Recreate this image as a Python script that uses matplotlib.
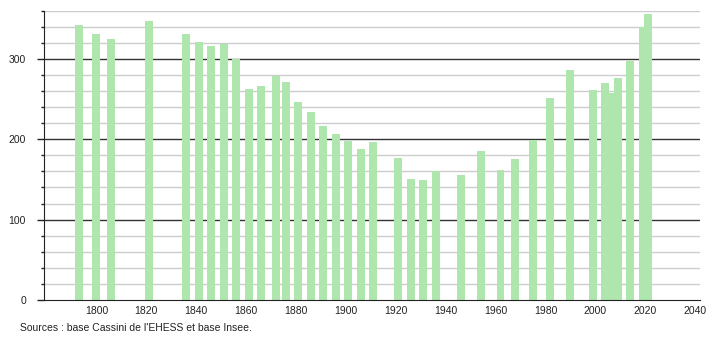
import matplotlib
matplotlib.use('Agg')
import matplotlib.pyplot as plt

# Census years and population.
years = [1793, 1800, 1806, 1821, 1836, 1841, 1846, 1851, 1856, 1861,
         1866, 1872, 1876, 1881, 1886, 1891, 1896, 1901, 1906, 1911,
         1921, 1926, 1931, 1936, 1946, 1954, 1962, 1968, 1975, 1982,
         1990, 1999, 2004, 2006, 2009, 2014, 2019, 2021]
population = [342, 331, 325, 347, 331, 321, 316, 319, 300, 263,
              266, 279, 271, 246, 234, 216, 206, 198, 188, 196,
              177, 150, 149, 160, 156, 185, 162, 176, 199, 251,
              286, 261, 270, 258, 276, 298, 340, 356]

x_ticks = [1800, 1820, 1840, 1860, 1880, 1900, 1920, 1940, 1960, 1980, 2000, 2020, 2040]
y_major = [0, 100, 200, 300]
y_minor = [v for v in range(20, 361, 20) if v not in y_major]
source = "Sources : base Cassini de l'EHESS et base Insee."

plt.rcParams['font.family'] = ['Liberation Sans', 'DejaVu Sans']

fig = plt.figure(figsize=(7.1, 3.4), dpi=100)
ax = fig.add_axes([0.062, 0.1176, 0.924, 0.851])

# grid: light gray every 20, black every 100, under the bars
for v in y_minor:
    ax.axhline(v, color='#cccccc', lw=1.0, zorder=1)
for v in y_major[1:]:
    ax.axhline(v, color='#333333', lw=1.0, zorder=1)

ax.bar(years, population, width=3.2, color='#aee6ae', zorder=2)

ax.set_xlim(1779, 2042)
ax.set_ylim(0, 360)

ax.set_xticks(x_ticks)
ax.set_yticks(y_major)
ax.set_yticks(y_minor, minor=True)
ax.tick_params(axis='x', length=0, pad=4, labelsize=7.5, colors='#222222')
ax.tick_params(axis='y', which='major', length=5, width=1, pad=8, labelsize=7.5,
               colors='#222222')
ax.tick_params(axis='y', which='minor', length=2.5, width=1, color='#222222')

for side in ['top', 'right']:
    ax.spines[side].set_visible(False)
ax.spines['left'].set_color('#222222')
ax.spines['bottom'].set_color('#222222')
ax.spines['left'].set_zorder(3)
ax.spines['bottom'].set_zorder(3)

fig.text(20 / 710, 1 - 328 / 340, source, fontsize=7.5, va='center', ha='left',
         color='#222222')

fig.savefig('out.png', dpi=100)
